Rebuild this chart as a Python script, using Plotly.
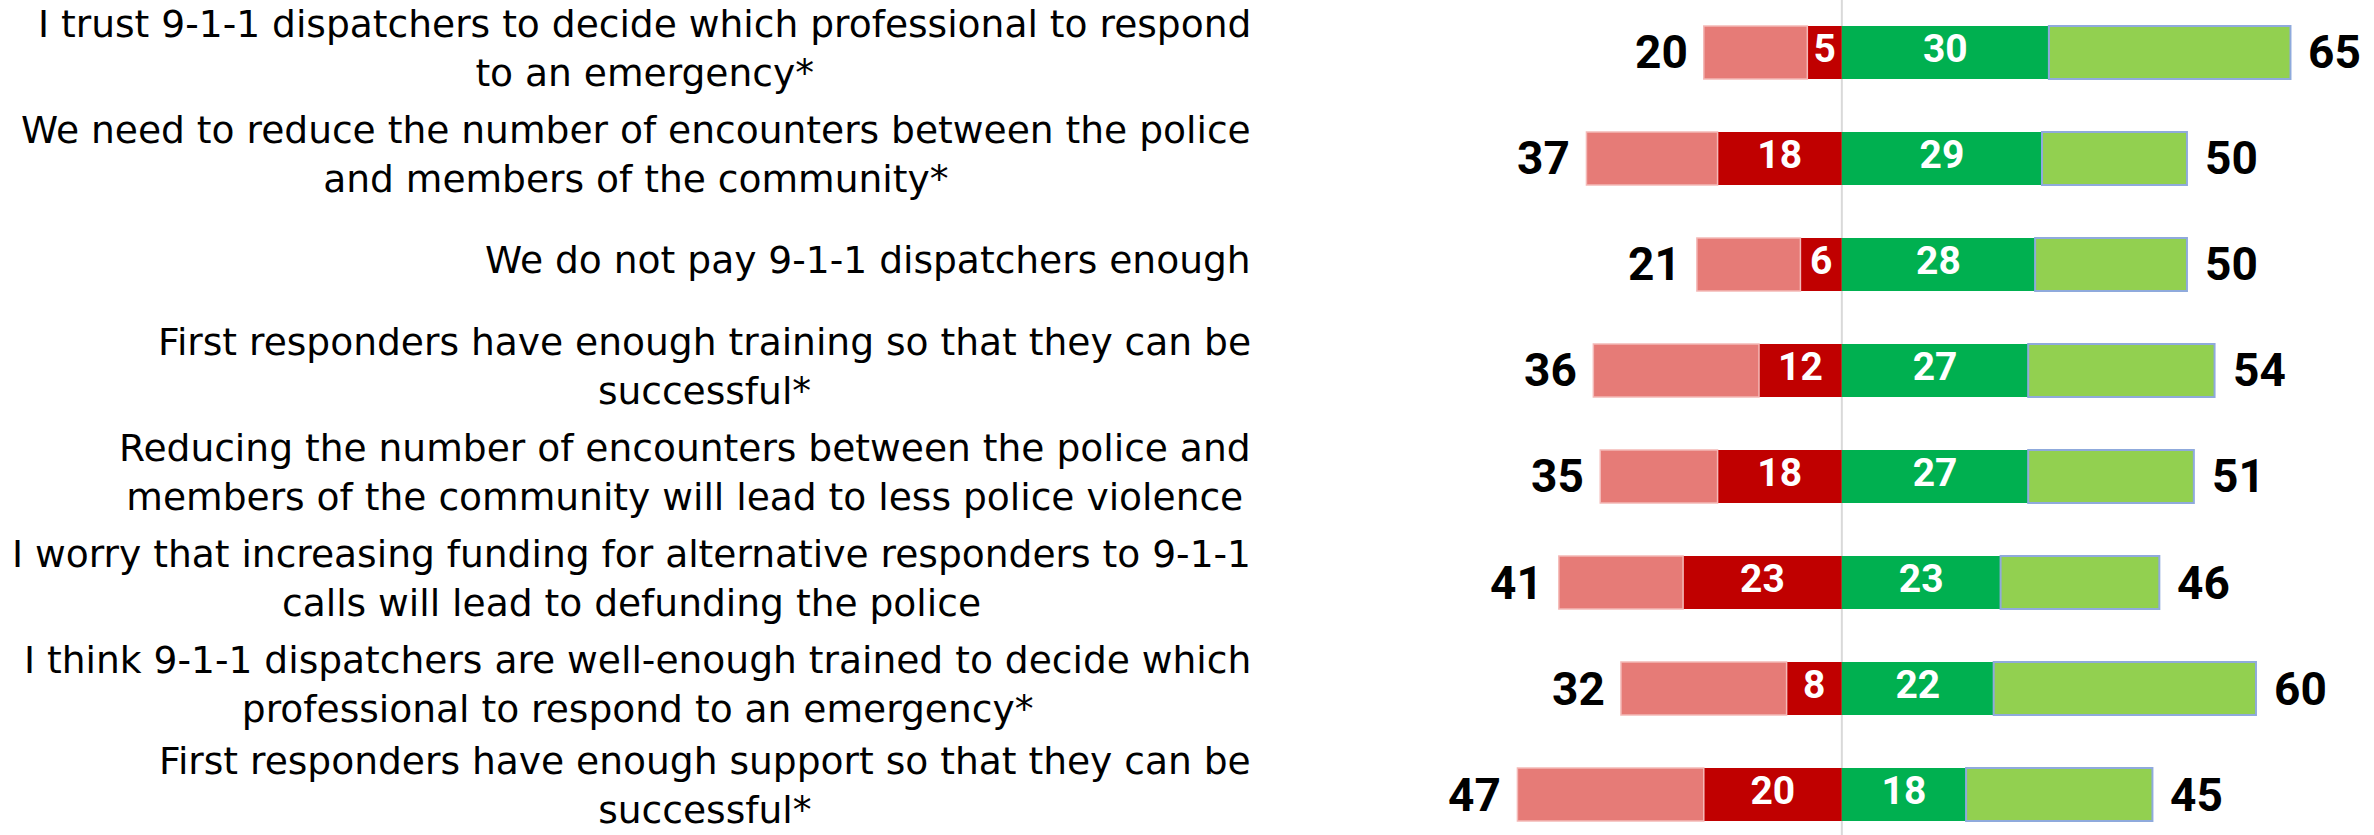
import plotly.graph_objects as go

# Survey statements (top to bottom)
statements = [
    "I trust 9-1-1 dispatchers to decide which professional to respond<br>to an emergency*",
    "We need to reduce the number of encounters between the police<br>and members of the community*",
    "We do not pay 9-1-1 dispatchers enough",
    "First responders have enough training so that they can be<br>successful*",
    "Reducing the number of encounters between the police and<br>members of the community will lead to less police violence",
    "I worry that increasing funding for alternative responders to 9-1-1<br>calls will lead to defunding the police",
    "I think 9-1-1 dispatchers are well-enough trained to decide which<br>professional to respond to an emergency*",
    "First responders have enough support so that they can be<br>successful*",
]

# Percentages
strong_disagree = [5, 18, 6, 12, 18, 23, 8, 20]
total_disagree = [20, 37, 21, 36, 35, 41, 32, 47]
strong_agree = [30, 29, 28, 27, 27, 23, 22, 18]
total_agree = [65, 50, 50, 54, 51, 46, 60, 45]

rows = list(range(len(statements)))

W, H = 2374, 835
PLOT_LEFT = 1300
NUM_FONT = "Roboto"
TEXT_FONT = "DejaVu Sans"

LIGHT_RED = "#E67B77"
DARK_RED = "#C00000"
GREEN = "#00B050"
LIGHT_GREEN = "#92D050"

fig = go.Figure()

# Disagree side: strong part next to the centre, remainder further out
fig.add_trace(go.Bar(
    y=rows, x=[-v for v in strong_disagree], base=0, orientation="h",
    marker=dict(color=DARK_RED, line=dict(width=0)), width=0.5,
    hoverinfo="skip", showlegend=False,
))
fig.add_trace(go.Bar(
    y=rows, x=[-(t - s) for t, s in zip(total_disagree, strong_disagree)],
    base=[-s for s in strong_disagree], orientation="h",
    marker=dict(color=LIGHT_RED, line=dict(width=1.5, color="#F4B9B7")), width=0.5,
    hoverinfo="skip", showlegend=False,
))
# Agree side
fig.add_trace(go.Bar(
    y=rows, x=strong_agree, base=0, orientation="h",
    marker=dict(color=GREEN, line=dict(width=0)), width=0.5,
    hoverinfo="skip", showlegend=False,
))
fig.add_trace(go.Bar(
    y=rows, x=[t - s for t, s in zip(total_agree, strong_agree)],
    base=strong_agree, orientation="h",
    marker=dict(color=LIGHT_GREEN, line=dict(width=2, color="#8FAADC")), width=0.5,
    hoverinfo="skip", showlegend=False,
))

# White labels inside the strong segments
fig.add_trace(go.Scatter(
    y=rows, x=[-v / 2 for v in strong_disagree], mode="text",
    text=[str(v) for v in strong_disagree],
    textfont=dict(family=NUM_FONT, size=39, color="white", weight=700),
    hoverinfo="skip", showlegend=False,
))
fig.add_trace(go.Scatter(
    y=rows, x=[v / 2 for v in strong_agree], mode="text",
    text=[str(v) for v in strong_agree],
    textfont=dict(family=NUM_FONT, size=39, color="white", weight=700),
    hoverinfo="skip", showlegend=False,
))

annotations = []
# Totals outside the bar ends
for r, td, ta in zip(rows, total_disagree, total_agree):
    annotations.append(dict(
        x=-td, y=r, xref="x", yref="y", text=str(td), showarrow=False,
        xanchor="right", yanchor="middle", xshift=-14,
        font=dict(family=NUM_FONT, size=46, color="black", weight=700),
    ))
    annotations.append(dict(
        x=ta, y=r, xref="x", yref="y", text=str(ta), showarrow=False,
        xanchor="left", yanchor="middle", xshift=16,
        font=dict(family=NUM_FONT, size=46, color="black", weight=700),
    ))

# Statement labels, right-aligned block with centred lines
for r, s in zip(rows, statements):
    annotations.append(dict(
        x=1252 / W, y=r, xref="paper", yref="y", text=s, showarrow=False,
        xanchor="right", yanchor="middle", align="center",
        yshift=9 if r == rows[-1] else 4, borderpad=0,
        font=dict(family=TEXT_FONT, size=37.6, color="black"),
    ))

fig.update_layout(
    width=W, height=H,
    margin=dict(l=0, r=0, t=0, b=0),
    paper_bgcolor="white", plot_bgcolor="white",
    barmode="overlay",
    xaxis=dict(domain=[PLOT_LEFT / W, 1], range=[-78.5, 77.1],
               showgrid=False, zeroline=False, showticklabels=False, ticks=""),
    yaxis=dict(range=[7.382, -0.495], showgrid=False, zeroline=False,
               showticklabels=False, ticks=""),
    shapes=[dict(type="line", xref="x", yref="paper", x0=0, x1=0, y0=0, y1=1,
                 line=dict(color="#D9D9D9", width=2), layer="below")],
    annotations=annotations,
)

fig.write_html("out.html")
